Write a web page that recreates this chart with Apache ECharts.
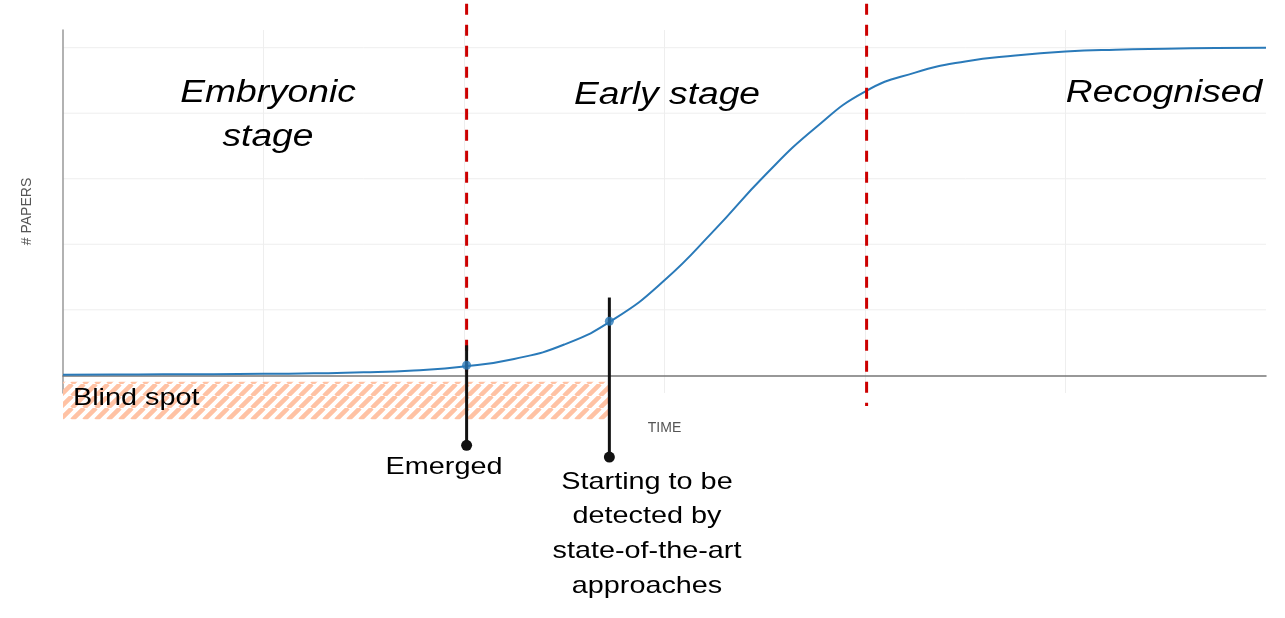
<!DOCTYPE html>
<html>
<head>
<meta charset="utf-8">
<script src="https://cdn.jsdelivr.net/npm/echarts@6.0.0/dist/echarts.min.js"></script>
<style>
  html, body { margin: 0; padding: 0; background: #fff; }
  #chart-main { width: 1285px; height: 618px; }
</style>
</head>
<body>
<div id="chart-main"></div>
<script>
// curve of papers over time
var timeSteps = [0, 0.25, 0.5, 0.75, 1, 1.25, 1.5, 1.75, 2, 2.25, 2.5, 2.75, 3,
  3.25, 3.5, 3.75, 4, 4.25, 4.5, 4.75, 5, 5.25, 5.5, 5.75, 6];
var paperCounts = [0.01, 0.012, 0.015, 0.018, 0.022, 0.03, 0.045, 0.075, 0.135, 0.25, 0.47, 0.86, 1.45,
  2.22, 3.05, 3.77, 4.33, 4.62, 4.79, 4.88, 4.94, 4.97, 4.985, 4.995, 5.0];
var gridLevels = [1, 2, 3, 4, 5];

// phase boundaries (red dashed): [time, top, bottom]
var boundaries = [[2.013, 5.67, 0], [4.008, 5.67, -0.47]];
// markers: [time, value on curve, stem top, stem bottom]
var markers = [[2.013, 0.153, 0.458, -1.069], [2.725, 0.825, 1.187, -1.248]];
// blind spot band: [x0, x1, yTop, yBottom]
var blindSpot = [[0, 2.725, -0.1, -0.67]];

var blue = '#2a7ab9';

function makeHatch() {
  var s = 12;
  var c = document.createElement('canvas');
  c.width = s; c.height = s;
  var ctx = c.getContext('2d');
  ctx.strokeStyle = '#ffc2a4';
  ctx.lineWidth = 4.5;
  ctx.beginPath();
  [-s, 0, s].forEach(function (o) {
    ctx.moveTo(o, s);
    ctx.lineTo(o + s, 0);
  });
  ctx.stroke();
  return c;
}
var hatch = makeHatch();

var myChart = echarts.init(document.getElementById('chart-main'));

var option = {
  animation: false,
  grid: { left: 63, right: 19, top: 30, bottom: 225 },
  xAxis: {
    type: 'value', min: 0, max: 6, interval: 1,
    name: 'TIME', nameLocation: 'middle', nameGap: 28,
    nameTextStyle: { fontSize: 14, color: '#555', fontFamily: '"Liberation Sans", Arial' },
    axisLine: { onZero: true, lineStyle: { color: '#777', width: 1.5 } },
    axisTick: { show: false },
    axisLabel: { show: false },
    splitLine: { show: true, showMinLine: false, showMaxLine: false, lineStyle: { color: '#eeeeee', width: 1 } }
  },
  yAxis: {
    type: 'value', min: -0.27, max: 5.27,
    name: '# PAPERS', nameLocation: 'middle', nameGap: 29,
    nameTextStyle: { fontSize: 14, color: '#555', fontFamily: '"Liberation Sans", Arial' },
    axisLine: { show: true, lineStyle: { color: '#999', width: 1.5 } },
    axisTick: { show: false },
    axisLabel: { show: false },
    splitLine: { show: false }
  },
  series: [
    {
      // horizontal grid
      type: 'custom', z: 0, silent: true,
      data: gridLevels,
      renderItem: function (params, api) {
        var a = api.coord([0, api.value(0)]);
        var b = api.coord([6, api.value(0)]);
        return { type: 'line', shape: { x1: a[0], y1: a[1], x2: b[0], y2: b[1] },
          style: { stroke: '#eeeeee', lineWidth: 1 } };
      }
    },
    {
      type: 'custom', z: 1, silent: true,
      data: blindSpot,
      renderItem: function (params, api) {
        var p1 = api.coord([api.value(0), api.value(2)]);
        var p2 = api.coord([api.value(1), api.value(3)]);
        return { type: 'rect', shape: { x: p1[0], y: p1[1], width: p2[0] - p1[0], height: p2[1] - p1[1] },
          style: { fill: { image: hatch, repeat: 'repeat' } } };
      }
    },
    {
      type: 'line', z: 3,
      data: timeSteps.map(function (t, i) { return [t, paperCounts[i]]; }),
      smooth: true,
      showSymbol: false,
      lineStyle: { color: blue, width: 2 }
    },
    {
      type: 'custom', z: 4, silent: true,
      data: boundaries,
      renderItem: function (params, api) {
        var a = api.coord([api.value(0), api.value(1)]);
        var b = api.coord([api.value(0), api.value(2)]);
        return { type: 'line', shape: { x1: a[0], y1: a[1], x2: b[0], y2: b[1] },
          style: { stroke: '#cc0000', lineWidth: 3, lineDash: [11, 10] } };
      }
    },
    {
      type: 'custom', z: 5, silent: true,
      data: markers,
      renderItem: function (params, api) {
        var a = api.coord([api.value(0), api.value(2)]);
        var b = api.coord([api.value(0), api.value(3)]);
        return { type: 'group', children: [
          { type: 'line', shape: { x1: a[0], y1: a[1], x2: b[0], y2: b[1] },
            style: { stroke: '#111', lineWidth: 3 } },
          { type: 'circle', shape: { cx: b[0], cy: b[1], r: 5.5 }, style: { fill: '#111' } }
        ] };
      }
    },
    {
      type: 'scatter', z: 6, silent: true,
      data: markers.map(function (m) { return [m[0], m[1]]; }),
      symbolSize: 9,
      itemStyle: { color: blue }
    }
  ],
  graphic: [
    { type: 'text', x: 268, y: 115, scaleX: 1.2, z: 10,
      style: { text: 'Embryonic\nstage', font: 'italic 31px "Liberation Sans", Arial', align: 'center', verticalAlign: 'middle', lineHeight: 44, fill: '#000' } },
    { type: 'text', x: 667, y: 95, scaleX: 1.2, z: 10,
      style: { text: 'Early stage', font: 'italic 31px "Liberation Sans", Arial', align: 'center', verticalAlign: 'middle', fill: '#000' } },
    { type: 'text', x: 1164, y: 93, scaleX: 1.2, z: 10,
      style: { text: 'Recognised', font: 'italic 31px "Liberation Sans", Arial', align: 'center', verticalAlign: 'middle', fill: '#000' } },
    { type: 'text', x: 73, y: 398, scaleX: 1.2, z: 10,
      style: { text: 'Blind spot', font: '24px "Liberation Sans", Arial', align: 'left', verticalAlign: 'middle', fill: '#000' } },
    { type: 'text', x: 444, y: 467, scaleX: 1.2, z: 10,
      style: { text: 'Emerged', font: '24px "Liberation Sans", Arial', align: 'center', verticalAlign: 'middle', fill: '#000' } },
    { type: 'text', x: 647, y: 534, scaleX: 1.2, z: 10,
      style: { text: 'Starting to be\ndetected by\nstate-of-the-art\napproaches', font: '24px "Liberation Sans", Arial', align: 'center', verticalAlign: 'middle', lineHeight: 34.7, fill: '#000' } }
  ]
};

myChart.setOption(option);

window.addEventListener('resize', function () {
  myChart.resize();
});
</script>
</body>
</html>
